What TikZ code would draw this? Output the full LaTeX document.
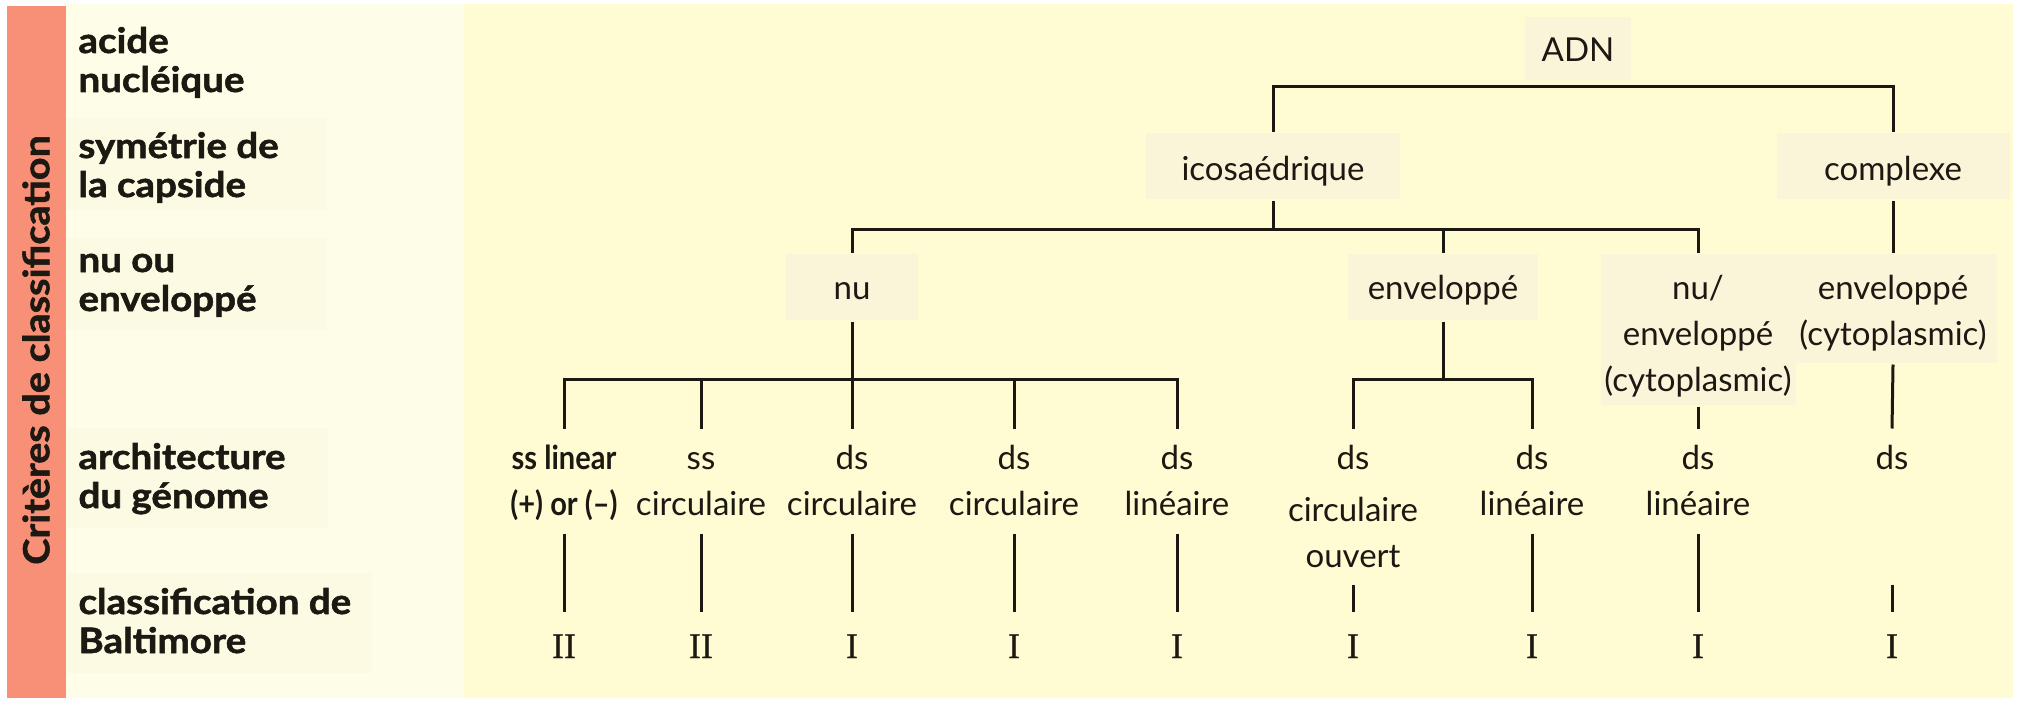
\documentclass[tikz,border=0pt]{standalone}
\usepackage{fontspec}
\setmainfont{Lato}
\newfontfamily\largefont[FakeStretch=1.1,FakeBold=1.5]{Lato}
\newfontfamily\serrefont[FakeStretch=0.88]{Lato}
\newfontfamily\romfont[FakeBold=0.8]{Liberation Serif}
\usepackage{xcolor}
\definecolor{saumon}{RGB}{248,143,119}
\definecolor{jaune}{RGB}{255,252,212}
\definecolor{pale}{RGB}{254,253,231}
\definecolor{bande}{RGB}{252,250,227}
\definecolor{boite}{RGB}{250,244,217}
\definecolor{encre}{RGB}{28,24,18}
\newcommand\pile[1]{\begin{tabular}[t]{@{}c@{}}#1\end{tabular}}
\newcommand\pileg[1]{\begin{tabular}[t]{@{}l@{}}#1\end{tabular}}

\begin{document}
\begin{tikzpicture}[x=.5pt,y=-.5pt,line width=1.5pt,color=encre,
  crit/.style={font=\largefont\bfseries\fontsize{17.5}{19.5}\selectfont,anchor=base west,inner sep=0pt},
  noeud/.style={font=\fontsize{16.5}{23}\selectfont,anchor=base,inner sep=0pt,text height=22.5pt,text depth=10.5pt,fill=boite},
  feuille/.style={font=\fontsize{16.5}{23}\selectfont,anchor=base,inner sep=0pt,text height=19.5pt,text depth=31.5pt},
  balti/.style={font=\romfont\fontsize{18}{18}\selectfont,anchor=base,inner sep=0pt,text height=22.5pt,text depth=3pt}]
\useasboundingbox (0,0) rectangle (2021,701);
\fill[white] (0,0) rectangle (2021,701);\fill[jaune] (66,4) rectangle (2013,698);\fill[pale] (66,4) rectangle (464,698);
\fill[bande] (66,118) rectangle (326,210);\fill[bande] (66,238) rectangle (326,330);
\fill[bande] (66,428) rectangle (328,528);\fill[bande] (66,573) rectangle (372,673);
\fill[saumon] (7,6) rectangle (66,698);
\node[rotate=90,inner sep=0pt,font=\largefont\bfseries\fontsize{18}{18}\selectfont] (titre) at (36,350) {Critères de classification};
\node[crit] (acide) at (77,53) {\pileg{acide\\nucléique}};\node[crit] (sym) at (77,158) {\pileg{symétrie de\\la capside}};
\node[crit] (nuou) at (77,272) {\pileg{nu ou\\enveloppé}};\node[crit] (archi) at (77,469) {\pileg{architecture\\du génome}};
\node[crit] (classe) at (77,614) {\pileg{classification de\\Baltimore}};
\node[noeud,minimum width=53pt,text depth=9pt] (adn) at (1578,62) {ADN};
\node[noeud,minimum width=127pt,text height=23.5pt,text depth=9.5pt] (ico) at (1273,180) {icosaédrique};
\node[noeud,minimum width=116.5pt,text height=23.5pt,text depth=9.5pt] (cplx) at (1893,180) {complexe};
\node[noeud,minimum width=66pt] (nu) at (852,299) {nu};\node[noeud,minimum width=95pt] (env) at (1443,299) {enveloppé};
\node[noeud,minimum width=97.5pt,text depth=53pt] (nuenv) at (1698,299) {\pile{nu/\\enveloppé\\(cytoplasmic)}};
\node[noeud,minimum width=103.5pt,text depth=32pt] (envc) at (1893,299) {\pile{enveloppé\\(cytoplasmic)}};
\node[feuille,font=\serrefont\bfseries\fontsize{16.5}{23}\selectfont] (a1) at (564,469) {\pile{ss linear\\(+) or (–)}};
\node[feuille] (a2) at (701,469) {\pile{ss\\circulaire}};\node[feuille] (a3) at (852,469) {\pile{ds\\circulaire}};
\node[feuille] (a4) at (1014,469) {\pile{ds\\circulaire}};\node[feuille] (a5) at (1177,469) {\pile{ds\\linéaire}};
\node[feuille,text depth=57pt] (a6) at (1353,469) {\pile{ds\\[3pt]circulaire\\ouvert}};
\node[feuille] (a7) at (1532,469) {\pile{ds\\linéaire}};\node[feuille] (a8) at (1698,469) {\pile{ds\\linéaire}};
\node[feuille,text depth=57pt] (a9) at (1892,469) {ds};
\foreach \x/\r [count=\k] in {564/II,701/II,852/I,1014/I,1177/I,1353/I,1532/I,1698/I,1892/I} \node[balti] (n\k) at (\x,658) {\r};
\draw (ico.north) -- ++(0,-45) -| (cplx.north);
\draw (nu.north) -- ++(0,-23) coordinate (b2) -| (nuenv.north);\draw (ico.south) -- (ico.south |- b2);\draw (env.north) -- (env.north |- b2);
\draw (cplx.south) -- (envc.north);
\draw (a1.north) -- ++(0,-49) coordinate (b3) -| (a5.north);\draw (nu.south) -- (nu.south |- b3);
\foreach \k in {2,3,4} \draw (a\k.north) -- (a\k.north |- b3);
\draw (a6.north) -- ++(0,-49) coordinate (b4) -| (a7.north);\draw (env.south) -- (env.south |- b4);
\draw (nuenv.south) -- (a8.north);\draw (envc.south) -- (a9.north);
\foreach \k in {1,...,9} \draw (a\k.south) -- (n\k.north);
\end{tikzpicture}
\end{document}
